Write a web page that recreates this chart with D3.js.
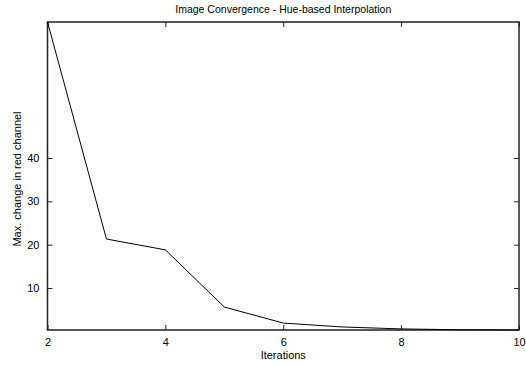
<!DOCTYPE html>
<html>
<head>
<meta charset="utf-8">
<script src="https://cdn.jsdelivr.net/npm/d3@7"></script>
<style>
  body { margin: 0; background: #fff; }
  svg { display: block; font-family: "Liberation Sans", Arial, sans-serif; }
</style>
</head>
<body>
<svg id="chart" width="526" height="366"></svg>
<script>
// data
const iterations = [2, 3, 4, 5, 6, 7, 8, 9, 10];
const maxRedChange = [71.4, 21.3, 18.8, 5.6, 1.9, 1.0, 0.55, 0.35, 0.3];
const xTicks = [2, 4, 6, 8, 10];
const yTicks = [10, 20, 30, 40];

const W = 526, H = 366;
const margin = { top: 22, right: 7, bottom: 36, left: 47.5 };
const width = W - margin.left - margin.right;
const height = H - margin.top - margin.bottom;

const svg = d3.select('#chart');
const g = svg.append('g').attr('transform', `translate(${margin.left},${margin.top})`);

const x = d3.scaleLinear().domain([2, 10]).range([0, width]);
const y = d3.scaleLinear().domain([d3.min(maxRedChange), d3.max(maxRedChange)]).range([height, 0]);

// bottom axis with labels, mirrored ticks on top
g.append('g')
  .attr('transform', `translate(0,${height})`)
  .call(d3.axisBottom(x).tickValues(xTicks).tickSize(-5).tickPadding(8).tickFormat(d3.format('d')))
  .call(a => a.select('.domain').remove());
g.append('g')
  .call(d3.axisTop(x).tickValues(xTicks).tickSize(-5).tickFormat(''))
  .call(a => a.select('.domain').remove());

g.append('g')
  .call(d3.axisLeft(y).tickValues(yTicks).tickSize(-5).tickPadding(8))
  .call(a => a.select('.domain').remove());
g.append('g')
  .attr('transform', `translate(${width},0)`)
  .call(d3.axisRight(y).tickValues(yTicks).tickSize(-5).tickFormat(''))
  .call(a => a.select('.domain').remove());

g.selectAll('.tick line').attr('stroke', '#222').attr('stroke-width', 1);
g.selectAll('.tick text').attr('font-size', 11).attr('fill', '#000')
  .attr('font-family', '"Liberation Sans", Arial, sans-serif');

// frame
g.append('rect')
  .attr('width', width).attr('height', height)
  .attr('fill', 'none').attr('stroke', '#222').attr('stroke-width', 1.5);

// data line
g.append('path')
  .datum(iterations.map((d, i) => [d, maxRedChange[i]]))
  .attr('fill', 'none')
  .attr('stroke', '#000')
  .attr('stroke-width', 1)
  .attr('d', d3.line().x(d => x(d[0])).y(d => y(d[1])));

// title and axis labels
svg.append('text')
  .attr('x', margin.left + width / 2).attr('y', 13)
  .attr('text-anchor', 'middle').attr('font-size', 10.5)
  .text('Image Convergence - Hue-based Interpolation');

svg.append('text')
  .attr('x', margin.left + width / 2).attr('y', 359)
  .attr('text-anchor', 'middle').attr('font-size', 11)
  .text('Iterations');

svg.append('text')
  .attr('transform', 'translate(21,179) rotate(-90)')
  .attr('text-anchor', 'middle').attr('font-size', 11)
  .text('Max. change in red channel');
</script>
</body>
</html>
